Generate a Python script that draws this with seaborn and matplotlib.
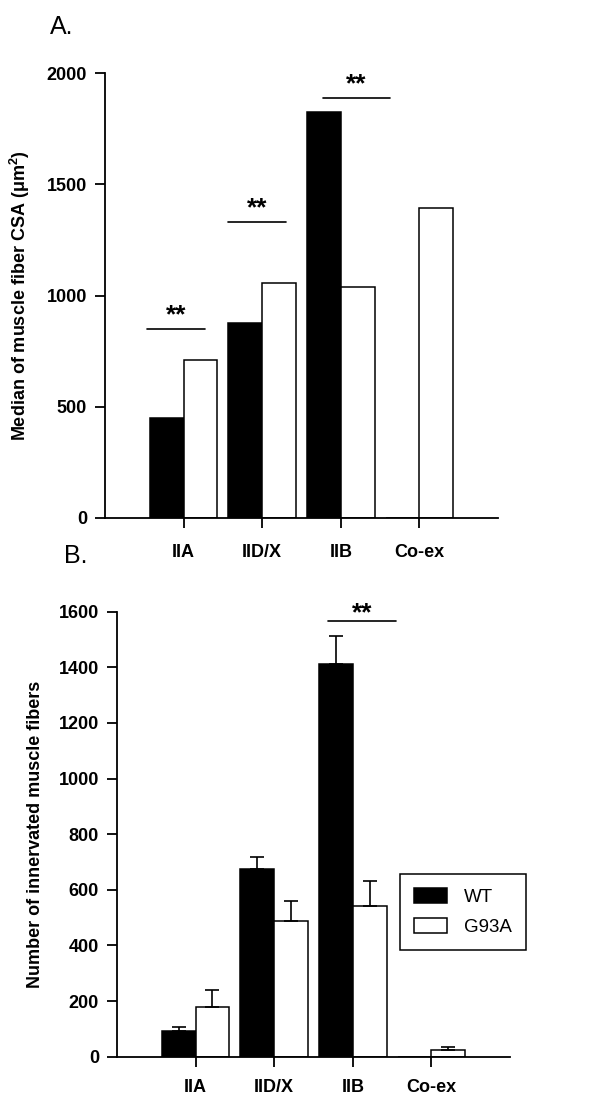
import numpy as np
import pandas as pd
import matplotlib
matplotlib.use("Agg")
import matplotlib.pyplot as plt
import seaborn as sns

# ---- data ----
categories = ["IIA", "IID/X", "IIB", "Co-ex"]
groups = ["WT", "G93A"]
wt_median = [450, 878, 1826, 0]
g93a_median = [710, 1058, 1040, 1392]
wt_count = [92, 675, 1412, 0]
g93a_count = [180, 489, 542, 24]
wt_count_err = [14, 42, 99, 0]
g93a_count_err = [60, 72, 90, 12]

sns.set_style("ticks")
plt.rcParams['font.family'] = ['Liberation Sans', 'DejaVu Sans']
plt.rcParams['mathtext.fontset'] = 'custom'
plt.rcParams['mathtext.rm'] = 'Liberation Sans'
plt.rcParams['mathtext.bf'] = 'Liberation Sans:bold'
for k in ['text.color', 'axes.labelcolor', 'xtick.color', 'ytick.color', 'axes.edgecolor']:
    plt.rcParams[k] = 'black'

dfA = pd.DataFrame({
    "cat": categories * 2,
    "group": [groups[0]] * 4 + [groups[1]] * 4,
    "val": wt_median + g93a_median,
})
dfB = pd.DataFrame({
    "cat": categories * 2,
    "group": [groups[0]] * 4 + [groups[1]] * 4,
    "val": wt_count + g93a_count,
})
palette = {"WT": "black", "G93A": "white"}

fig = plt.figure(figsize=(5.94, 10.95), dpi=100)
axA = fig.add_axes([105/594, 1-518/1095, (498-105)/594, (518-73)/1095])
axB = fig.add_axes([117/594, 1-1056.7/1095, (510-117)/594, (1056.7-611.7)/1095])

for ax, df in [(axA, dfA), (axB, dfB)]:
    sns.barplot(data=df, x="cat", y="val", hue="group", order=categories,
                hue_order=groups, palette=palette, width=0.86,
                edgecolor="black", linewidth=1.1, errorbar=None, ax=ax,
                legend=(ax is axB))
    ax.set_xlim(-1, 4)
    sns.despine(ax=ax)
    for s in ["left", "bottom"]:
        ax.spines[s].set_linewidth(1.3)
        ax.spines[s].set_color("black")
    ax.tick_params(axis="both", direction="out", length=7, width=1.3, colors="black")
    ax.set_xlabel("")
    for lab in ax.get_xticklabels() + ax.get_yticklabels():
        lab.set_fontweight("bold")
        lab.set_fontsize(13)

axA.set_ylim(0, 2000)
axA.set_yticks([0, 500, 1000, 1500, 2000])
axA.tick_params(axis="x", pad=12)
axA.tick_params(axis="y", pad=6)
axA.set_ylabel(r"Median of muscle fiber CSA ($\mathbf{\mu m^2}$)",
               fontsize=13, fontweight="bold")
axA.yaxis.set_label_coords(-0.185, 0.5)

axB.set_ylim(0, 1600)
axB.set_yticks(range(0, 1601, 200))
axB.tick_params(axis="x", pad=9)
axB.tick_params(axis="y", pad=6)
axB.set_ylabel("Number of innervated muscle fibers", fontsize=13, fontweight="bold")
axB.yaxis.set_label_coords(-0.185, 0.5)

# error bars (upper only) for panel B
for cont, err in zip(axB.containers, [wt_count_err, g93a_count_err]):
    for bar, e in zip(cont, err):
        if e <= 0:
            continue
        xc = bar.get_x() + bar.get_width() / 2
        h = bar.get_height()
        axB.errorbar([xc], [h], yerr=[[0], [e]], fmt="none", ecolor="black",
                     elinewidth=1.2, capsize=5, capthick=1.2, zorder=1)

# significance markers
def sig(ax, x0, x1, y, off):
    ax.plot([x0, x1], [y, y], color="black", lw=1.2, clip_on=False)
    ax.annotate("**", xy=((x0 + x1) / 2, y), xytext=(0, off),
                textcoords="offset points", ha="center", va="bottom",
                fontsize=19, fontweight="bold")

sig(axA, -0.46, 0.27, 849, 1.5)
sig(axA, 0.57, 1.30, 1330, 1.5)
sig(axA, 1.77, 2.62, 1888, 1.5)
sig(axB, 1.685, 2.55, 1565, -3)

# legend
leg = axB.legend(loc="upper left", bbox_to_anchor=(0.72, 0.41), fontsize=13.5,
                 frameon=True, fancybox=False, shadow=False, framealpha=1,
                 edgecolor="black", handlelength=1.75, handleheight=0.8,
                 handletextpad=0.9, labelspacing=0.65, borderpad=0.75,
                 borderaxespad=0)
leg.get_frame().set_linewidth(1.1)

fig.text(50/594, 1-27/1095, "A.", fontsize=18, ha="left", va="center")
fig.text(64/594, 1-556/1095, "B.", fontsize=18, ha="left", va="center")

fig.savefig("out.png", dpi=100)
